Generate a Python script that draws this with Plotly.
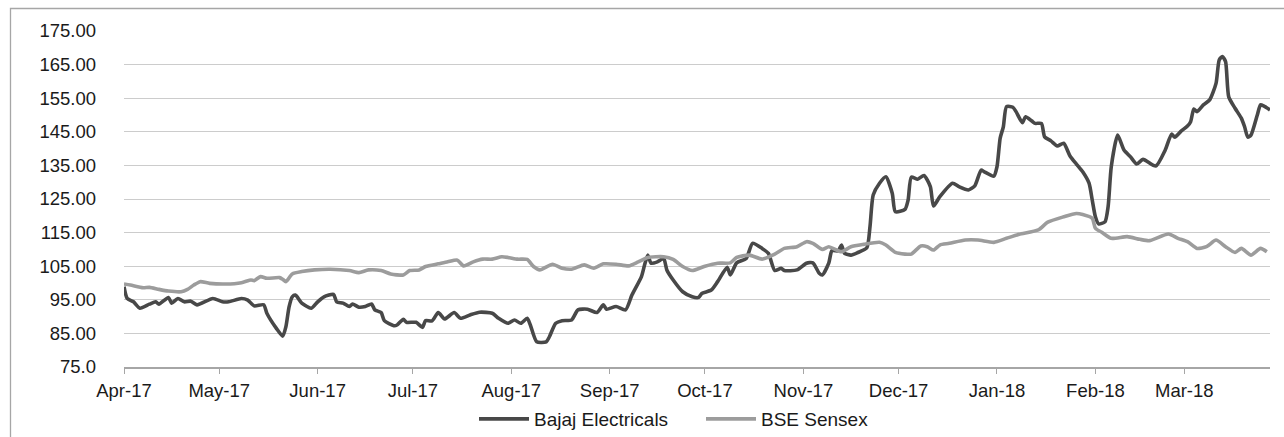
import plotly.graph_objects as go

# ---------------- data ----------------
bajaj_dates = [
    "2017-04-01", "2017-04-02", "2017-04-04", "2017-04-06", "2017-04-09", "2017-04-11", "2017-04-12",
    "2017-04-15", "2017-04-16", "2017-04-18", "2017-04-20", "2017-04-22", "2017-04-24", "2017-04-29",
    "2017-05-02", "2017-05-04", "2017-05-08", "2017-05-10", "2017-05-12", "2017-05-15", "2017-05-16",
    "2017-05-19", "2017-05-21", "2017-05-22", "2017-05-23", "2017-05-24", "2017-05-25", "2017-05-27",
    "2017-05-30", "2017-06-01", "2017-06-03", "2017-06-06", "2017-06-07", "2017-06-09", "2017-06-11",
    "2017-06-12", "2017-06-14", "2017-06-16", "2017-06-18", "2017-06-19", "2017-06-21", "2017-06-22",
    "2017-06-25", "2017-06-26", "2017-06-28", "2017-06-29", "2017-07-02", "2017-07-04", "2017-07-05",
    "2017-07-07", "2017-07-09", "2017-07-11", "2017-07-14", "2017-07-16", "2017-07-19", "2017-07-22",
    "2017-07-26", "2017-07-28", "2017-07-31", "2017-08-02", "2017-08-04", "2017-08-06", "2017-08-07",
    "2017-08-09", "2017-08-12", "2017-08-13", "2017-08-15", "2017-08-17", "2017-08-20", "2017-08-22",
    "2017-08-25", "2017-08-28", "2017-08-30", "2017-08-31", "2017-09-03", "2017-09-06", "2017-09-08",
    "2017-09-11", "2017-09-12", "2017-09-13", "2017-09-14", "2017-09-16", "2017-09-18", "2017-09-19",
    "2017-09-21", "2017-09-24", "2017-09-27", "2017-09-29", "2017-09-30", "2017-10-03", "2017-10-05",
    "2017-10-08", "2017-10-09", "2017-10-11", "2017-10-14", "2017-10-16", "2017-10-19", "2017-10-21",
    "2017-10-23", "2017-10-25", "2017-10-26", "2017-10-30", "2017-11-02", "2017-11-04", "2017-11-06",
    "2017-11-07", "2017-11-09", "2017-11-10", "2017-11-12", "2017-11-13", "2017-11-14", "2017-11-16",
    "2017-11-18", "2017-11-21", "2017-11-22", "2017-11-23", "2017-11-25", "2017-11-27", "2017-11-29",
    "2017-11-30", "2017-12-03", "2017-12-04", "2017-12-05", "2017-12-07", "2017-12-09", "2017-12-11",
    "2017-12-12", "2017-12-14", "2017-12-18", "2017-12-20", "2017-12-23", "2017-12-25", "2017-12-27",
    "2017-12-28", "2017-12-31", "2018-01-01", "2018-01-02", "2018-01-03", "2018-01-04", "2018-01-06",
    "2018-01-07", "2018-01-09", "2018-01-10", "2018-01-12", "2018-01-13", "2018-01-15", "2018-01-16",
    "2018-01-18", "2018-01-20", "2018-01-22", "2018-01-24", "2018-01-26", "2018-01-28", "2018-01-30",
    "2018-01-31", "2018-02-01", "2018-02-02", "2018-02-04", "2018-02-05", "2018-02-06", "2018-02-08",
    "2018-02-10", "2018-02-12", "2018-02-14", "2018-02-16", "2018-02-20", "2018-02-23", "2018-02-25",
    "2018-02-26", "2018-02-28", "2018-03-02", "2018-03-03", "2018-03-04", "2018-03-05", "2018-03-07",
    "2018-03-09", "2018-03-11", "2018-03-12", "2018-03-13", "2018-03-14", "2018-03-15", "2018-03-17",
    "2018-03-19", "2018-03-20", "2018-03-21", "2018-03-22", "2018-03-24", "2018-03-25", "2018-03-26",
    "2018-03-28",
]
bajaj_values = [
    98.9, 95.4, 94.4, 92.5, 93.7, 94.4, 93.7,
    95.7, 94.0, 95.4, 94.4, 94.6, 93.5, 95.4,
    94.4, 94.4, 95.4, 94.9, 93.2, 93.5, 91.0,
    86.5, 84.2, 87.0, 92.9, 95.9, 96.4, 94.0,
    92.5, 94.4, 95.9, 96.6, 94.4, 94.0, 93.0,
    93.75, 92.8, 93.0, 93.75, 92.0, 91.2, 88.8,
    87.3, 87.5, 89.2, 88.3, 88.3, 86.8, 88.8,
    88.7, 91.2, 89.3, 91.2, 89.5, 90.5, 91.3,
    91.0, 89.5, 88.0, 89.0, 88.0, 89.5, 87.5,
    82.5, 82.5, 84.0, 88.0, 88.8, 89.0, 92.0,
    92.2, 91.2, 93.5, 92.2, 93.0, 92.0, 96.4,
    101.9, 105.4, 108.3, 105.9, 106.3, 107.3, 103.9,
    100.9, 97.4, 95.9, 95.7, 96.9, 97.9, 100.4,
    104.7, 102.4, 106.0, 107.3, 111.8, 110.3, 108.8,
    103.7, 104.4, 103.7, 103.9, 105.9, 106.0, 102.9,
    102.4, 105.9, 109.6, 109.6, 111.3, 108.8, 108.3,
    109.0, 110.5, 116.8, 126.2, 129.7, 131.6, 126.7,
    121.2, 121.9, 124.7, 131.5, 130.9, 132.0, 128.7,
    122.9, 125.7, 129.7, 128.7, 127.7, 128.9, 133.6,
    133.1, 131.8, 134.6, 143.1, 146.5, 152.5, 152.3,
    151.0, 147.7, 149.5, 148.2, 147.5, 147.5, 143.5,
    142.3, 140.8, 141.6, 137.8, 135.4, 133.1, 129.7,
    124.7, 119.7, 117.6, 118.2, 122.7, 134.6, 144.0,
    139.6, 137.6, 135.4, 136.8, 134.8, 139.6, 144.3,
    143.4, 145.2, 146.7, 148.0, 151.8, 151.0, 153.0,
    154.5, 159.4, 166.4, 167.4, 165.9, 155.4, 152.0,
    149.0, 146.5, 143.4, 144.0, 150.0, 153.0, 152.7,
    151.5,
]

sensex_dates = [
    "2017-04-01", "2017-04-03", "2017-04-07", "2017-04-09", "2017-04-12", "2017-04-15", "2017-04-19",
    "2017-04-21", "2017-04-23", "2017-04-25", "2017-04-28", "2017-05-03", "2017-05-08", "2017-05-11",
    "2017-05-12", "2017-05-14", "2017-05-16", "2017-05-20", "2017-05-21", "2017-05-22", "2017-05-24",
    "2017-05-27", "2017-05-31", "2017-06-05", "2017-06-11", "2017-06-14", "2017-06-17", "2017-06-21",
    "2017-06-24", "2017-06-28", "2017-06-30", "2017-07-03", "2017-07-05", "2017-07-09", "2017-07-12",
    "2017-07-15", "2017-07-17", "2017-07-20", "2017-07-23", "2017-07-26", "2017-07-29", "2017-07-31",
    "2017-08-03", "2017-08-06", "2017-08-08", "2017-08-10", "2017-08-14", "2017-08-17", "2017-08-20",
    "2017-08-24", "2017-08-27", "2017-08-30", "2017-09-03", "2017-09-07", "2017-09-10", "2017-09-13",
    "2017-09-18", "2017-09-21", "2017-09-24", "2017-09-27", "2017-10-01", "2017-10-05", "2017-10-09",
    "2017-10-11", "2017-10-15", "2017-10-19", "2017-10-23", "2017-10-26", "2017-10-30", "2017-11-02",
    "2017-11-04", "2017-11-07", "2017-11-09", "2017-11-13", "2017-11-16", "2017-11-20", "2017-11-25",
    "2017-11-27", "2017-11-30", "2017-12-03", "2017-12-05", "2017-12-08", "2017-12-10", "2017-12-12",
    "2017-12-14", "2017-12-17", "2017-12-22", "2017-12-26", "2017-12-31", "2018-01-04", "2018-01-08",
    "2018-01-14", "2018-01-17", "2018-01-22", "2018-01-26", "2018-01-28", "2018-01-31", "2018-02-01",
    "2018-02-03", "2018-02-06", "2018-02-11", "2018-02-15", "2018-02-18", "2018-02-24", "2018-02-27",
    "2018-03-02", "2018-03-05", "2018-03-08", "2018-03-11", "2018-03-14", "2018-03-17", "2018-03-19",
    "2018-03-22", "2018-03-25", "2018-03-27",
]
sensex_values = [
    99.7, 99.4, 98.6, 98.7, 98.1, 97.6, 97.4,
    98.1, 99.4, 100.4, 99.9, 99.7, 100.1, 100.9,
    100.7, 101.9, 101.4, 101.6, 101.1, 100.4, 102.7,
    103.4, 103.9, 104.1, 103.7, 103.1, 103.9, 103.7,
    102.7, 102.4, 103.7, 103.9, 104.9, 105.7, 106.3,
    106.8, 105.1, 106.3, 107.1, 107.1, 107.8, 107.6,
    107.1, 107.0, 104.9, 103.9, 105.6, 104.4, 104.1,
    105.4, 104.4, 105.7, 105.6, 105.1, 106.3, 107.6,
    107.8, 107.0, 104.9, 103.7, 105.0, 105.9, 106.0,
    107.6, 108.3, 107.1, 108.6, 110.3, 110.8, 112.3,
    111.8, 110.0, 110.8, 109.3, 110.8, 111.5, 112.1,
    111.3, 109.1, 108.6, 108.6, 111.0, 110.8, 109.8,
    111.3, 111.8, 112.8, 112.8, 112.1, 113.3, 114.5,
    115.8, 118.1, 119.7, 120.7, 120.4, 119.3, 116.3,
    115.1, 113.3, 113.8, 113.0, 112.6, 114.6, 113.3,
    112.3, 110.3, 110.8, 112.8, 110.8, 109.1, 110.3,
    108.3, 110.3, 109.3,
]

y_tick_values = [75, 85, 95, 105, 115, 125, 135, 145, 155, 165, 175]
y_tick_labels = ["75.0", "85.00", "95.00", "105.00", "115.00", "125.00", "135.00",
                 "145.00", "155.00", "165.00", "175.00"]

series_names = ["Bajaj Electricals", "BSE Sensex"]
series_colors = ["#484848", "#9c9c9c"]

# ---------------- figure ----------------
W, H = 1284, 437
ML, MR, MT, MB = 124, 14, 31, 70
PW, PH = W - ML - MR, H - MT - MB

font_family = "Arial, 'Liberation Sans', Helvetica, sans-serif"

fig = go.Figure()
fig.add_trace(go.Scatter(
    x=bajaj_dates, y=bajaj_values, mode="lines", name=series_names[0],
    line=dict(color=series_colors[0], width=3.6, shape="spline", smoothing=0.6),
))
fig.add_trace(go.Scatter(
    x=sensex_dates, y=sensex_values, mode="lines", name=series_names[1],
    line=dict(color=series_colors[1], width=3.6, shape="spline", smoothing=0.6),
))

def px_to_paper_x(px):
    return (px - ML) / PW

def px_to_paper_y(py):
    return (H - MB - py) / PH

# outer chart-area frame (Excel style), partially cut by the picture edge
fig.add_shape(
    type="rect", xref="paper", yref="paper",
    x0=px_to_paper_x(10.5), x1=px_to_paper_x(1300),
    y0=px_to_paper_y(460), y1=px_to_paper_y(8.5),
    line=dict(color="#a6a6a6", width=1.3), fillcolor="rgba(0,0,0,0)", layer="below",
)

fig.update_layout(
    width=W, height=H,
    margin=dict(l=ML, r=MR, t=MT, b=MB, pad=0, autoexpand=False),
    paper_bgcolor="white", plot_bgcolor="white",
    font=dict(family=font_family, size=18.5, color="#1a1a1a"),
    showlegend=True,
    legend=dict(
        orientation="h", x=px_to_paper_x(474), xanchor="left",
        y=px_to_paper_y(419), yanchor="middle",
        font=dict(size=19, color="#1a1a1a"),
        bgcolor="rgba(0,0,0,0)", itemwidth=50,
        entrywidth=162, entrywidthmode="pixels",
    ),
)

fig.update_xaxes(
    type="date", range=["2017-04-01", "2018-03-28"],
    tick0="2017-04-01", dtick="M1", tickformat="%b-%y",
    showgrid=False, zeroline=False,
    showline=True, linecolor="#a6a6a6", linewidth=1.5,
    ticks="outside", ticklen=5, tickwidth=1.2, tickcolor="#a6a6a6",
    ticklabelstandoff=1,
    tickfont=dict(size=18.5, color="#1a1a1a"),
)
fig.update_yaxes(
    range=[75, 175], tickmode="array", tickvals=y_tick_values, ticktext=y_tick_labels,
    showgrid=True, gridcolor="#cccccc", gridwidth=1.3,
    zeroline=False, showline=False, ticks="",
    ticklabelstandoff=27,
    tickfont=dict(size=18.5, color="#1a1a1a"),
)

fig.write_html("out.html")
